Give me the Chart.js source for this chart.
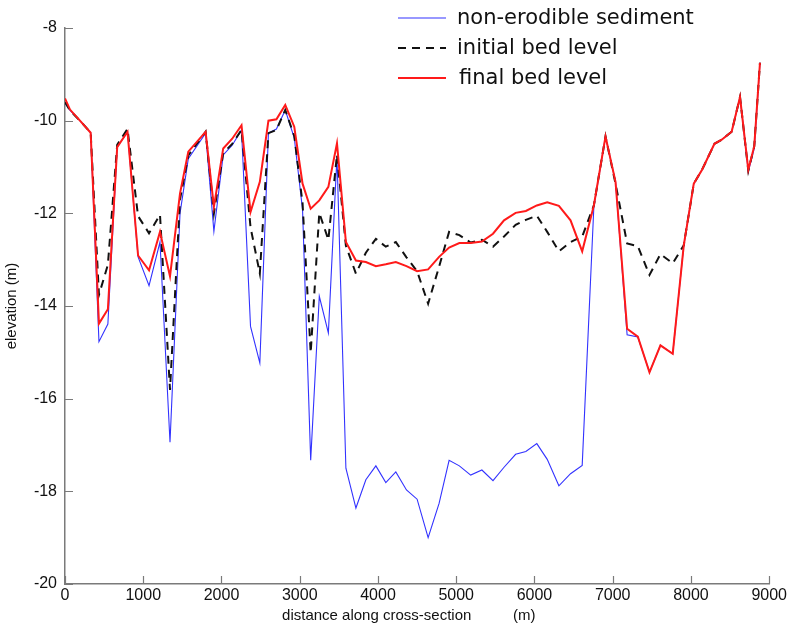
<!DOCTYPE html>
<html>
<head>
<meta charset="utf-8">
<script src="https://cdn.jsdelivr.net/npm/chart.js@4.4.1/dist/chart.umd.min.js"></script>
<style>
  html, body { margin: 0; padding: 0; background: #fff; }
  #wrap { width: 789px; height: 625px; }
</style>
</head>
<body>
<div id="wrap"><canvas id="profile" width="789" height="625"></canvas></div>
<script>
// distance along cross-section (m)
var distance = [0, 64, 191, 328, 434, 548, 667, 799, 934, 1074, 1214, 1342, 1470, 1576, 1797, 1903,
  2022, 2137, 2256, 2371, 2490, 2600, 2702, 2815, 2930, 3036, 3140, 3250, 3366, 3476, 3590, 3718,
  3845, 3973, 4100, 4228, 4364, 4500, 4641, 4781, 4909, 5040, 5185, 5328, 5470, 5611, 5759, 5890,
  6030, 6163, 6312, 6461, 6610, 6759, 6908, 7036, 7184, 7321, 7470, 7610, 7767, 7908, 8036, 8142,
  8300, 8393, 8520, 8627, 8733, 8809, 8882];

// elevation (m)
var nonErodible = [-9.62, -9.78, -10.0, -10.26, -14.77, -14.39, -10.57, -10.24, -12.94, -13.56, -12.62, -16.94, -12.0, -10.82, -10.27, -12.39,
  -10.74, -10.53, -10.2, -14.44, -15.23, -10.27, -10.18, -9.77, -10.37, -11.92, -17.33, -13.79, -14.58, -10.77, -17.5, -18.36,
  -17.75, -17.45, -17.81, -17.58, -17.97, -18.17, -19.0, -18.26, -17.33, -17.45, -17.65, -17.54, -17.77, -17.48, -17.2, -17.14,
  -16.97, -17.31, -17.88, -17.62, -17.44, -11.86, -10.34, -11.32, -14.62, -14.67, -15.43, -14.85, -15.03, -12.69, -11.36, -11.06,
  -10.5, -10.41, -10.24, -9.49, -11.1, -10.6, -8.75];

var initialBed = [-9.6, -9.78, -10.0, -10.26, -13.76, -13.11, -10.52, -10.18, -12.06, -12.43, -12.03, -15.81, -11.7, -10.75, -10.24, -12.0,
  -10.7, -10.5, -10.2, -12.3, -13.3, -10.27, -10.2, -9.77, -10.33, -11.78, -15.01, -11.99, -12.57, -10.73, -12.7, -13.3,
  -12.85, -12.55, -12.72, -12.62, -12.95, -13.25, -13.95, -13.15, -12.4, -12.47, -12.63, -12.57, -12.72, -12.5, -12.25, -12.14,
  -12.05, -12.4, -12.82, -12.62, -12.5, -11.83, -10.34, -11.36, -12.65, -12.71, -13.33, -12.88, -13.08, -12.69, -11.36, -11.06,
  -10.5, -10.41, -10.24, -9.49, -11.08, -10.55, -8.75];

var finalBed = [-9.52, -9.76, -10.0, -10.26, -14.38, -14.07, -10.57, -10.24, -12.91, -13.23, -12.4, -13.36, -11.57, -10.67, -10.24, -11.86,
  -10.6, -10.39, -10.1, -11.97, -11.32, -10.0, -9.97, -9.66, -10.13, -11.36, -11.9, -11.72, -11.43, -10.49, -12.62, -13.02,
  -13.05, -13.14, -13.1, -13.05, -13.14, -13.25, -13.21, -12.94, -12.74, -12.64, -12.64, -12.61, -12.44, -12.15, -11.99, -11.95,
  -11.83, -11.76, -11.84, -12.15, -12.82, -11.83, -10.34, -11.32, -14.49, -14.66, -15.43, -14.85, -15.03, -12.69, -11.36, -11.06,
  -10.5, -10.41, -10.24, -9.49, -11.06, -10.55, -8.75];

var xTicks = [0, 1000, 2000, 3000, 4000, 5000, 6000, 7000, 8000, 9000];
var yTicks = [-20, -18, -16, -14, -12, -10, -8];

function pairs(ys) {
  return ys.map(function(y, i) { return { x: distance[i], y: y }; });
}

var axisGray = '#7a7a7a';

// inward tick marks, like the original plot
var inwardTicks = {
  id: 'inwardTicks',
  afterDraw: function(chart) {
    var ctx = chart.ctx;
    var xs = chart.scales.x, ys = chart.scales.y;
    var area = chart.chartArea;
    ctx.save();
    ctx.strokeStyle = axisGray;
    ctx.lineWidth = 1.2;
    ctx.beginPath();
    xTicks.forEach(function(v) {
      var px = Math.round(xs.getPixelForValue(v)) + 0.5;
      ctx.moveTo(px, area.bottom);
      ctx.lineTo(px, area.bottom - 8);
    });
    yTicks.forEach(function(v) {
      var py = Math.round(ys.getPixelForValue(v)) + 0.5;
      ctx.moveTo(area.left, py);
      ctx.lineTo(area.left + 8, py);
    });
    ctx.stroke();
    ctx.restore();
  }
};

// legend drawn without a box at the top right
var plainLegend = {
  id: 'plainLegend',
  afterDraw: function(chart) {
    var ctx = chart.ctx;
    ctx.save();
    ctx.font = '21px "DejaVu Sans"';
    ctx.textBaseline = 'middle';
    chart.data.datasets.forEach(function(ds, i) {
      var y = 18 + i * 30;
      ctx.strokeStyle = ds.borderColor;
      ctx.lineWidth = ds.borderWidth;
      ctx.setLineDash(ds.borderDash || []);
      ctx.beginPath();
      ctx.moveTo(398, y);
      ctx.lineTo(446, y);
      ctx.stroke();
      ctx.setLineDash([]);
      ctx.fillStyle = '#111';
      ctx.fillText(ds.label, i == 2 ? 459 : 457, y + 1);
    });
    ctx.restore();
  }
};

var config = {
  type: 'line',
  data: {
    datasets: [{
      label: 'non-erodible sediment',
      data: pairs(nonErodible),
      borderColor: 'rgb(50,50,255)',
      borderWidth: 1.1,
      pointRadius: 0,
      fill: false,
      order: 2
    }, {
      label: 'initial bed level',
      data: pairs(initialBed),
      borderColor: '#111',
      borderWidth: 2,
      borderDash: [8, 6],
      pointRadius: 0,
      fill: false,
      order: 1
    }, {
      label: 'final bed level',
      data: pairs(finalBed),
      borderColor: '#ff1a1a',
      borderWidth: 2,
      pointRadius: 0,
      fill: false,
      order: 0
    }]
  },
  options: {
    responsive: false,
    animation: false,
    layout: { padding: { top: 28, right: 18, left: 0, bottom: 0 } },
    plugins: {
      legend: { display: false },
      tooltip: { enabled: false }
    },
    scales: {
      x: {
        type: 'linear',
        min: 0,
        max: 9000,
        afterBuildTicks: function(scale) {
          scale.ticks = xTicks.map(function(v) { return { value: v }; });
        },
        afterFit: function(scale) { scale.height = 41; },
        grid: { display: false, tickLength: 0 },
        border: { display: true, color: axisGray, width: 1.5 },
        ticks: {
          padding: 2,
          color: '#111',
          maxRotation: 0,
          font: { family: 'Liberation Sans', size: 16 },
          callback: function(v) { return String(v); }
        },
        title: {
          display: true,
          text: 'distance along cross-section          (m)    ',
          color: '#111',
          padding: { top: 0, bottom: 0 },
          font: { family: 'Liberation Sans', size: 15 }
        }
      },
      y: {
        type: 'linear',
        min: -20,
        max: -8,
        afterBuildTicks: function(scale) {
          scale.ticks = yTicks.map(function(v) { return { value: v }; });
        },
        afterFit: function(scale) { scale.width = 65; },
        grid: { display: false, tickLength: 0 },
        border: { display: true, color: axisGray, width: 1.5 },
        ticks: {
          padding: 8,
          color: '#111',
          font: { family: 'Liberation Sans', size: 16 },
          callback: function(v) { return String(v); }
        },
        title: {
          display: true,
          text: 'elevation (m)',
          color: '#111',
          padding: { top: 3, bottom: 0 },
          font: { family: 'Liberation Sans', size: 15 }
        }
      }
    }
  },
  plugins: [inwardTicks, plainLegend]
};

window.onload = function() {
  var ctx = document.getElementById('profile').getContext('2d');
  window.profileChart = new Chart(ctx, config);
};
</script>
</body>
</html>
